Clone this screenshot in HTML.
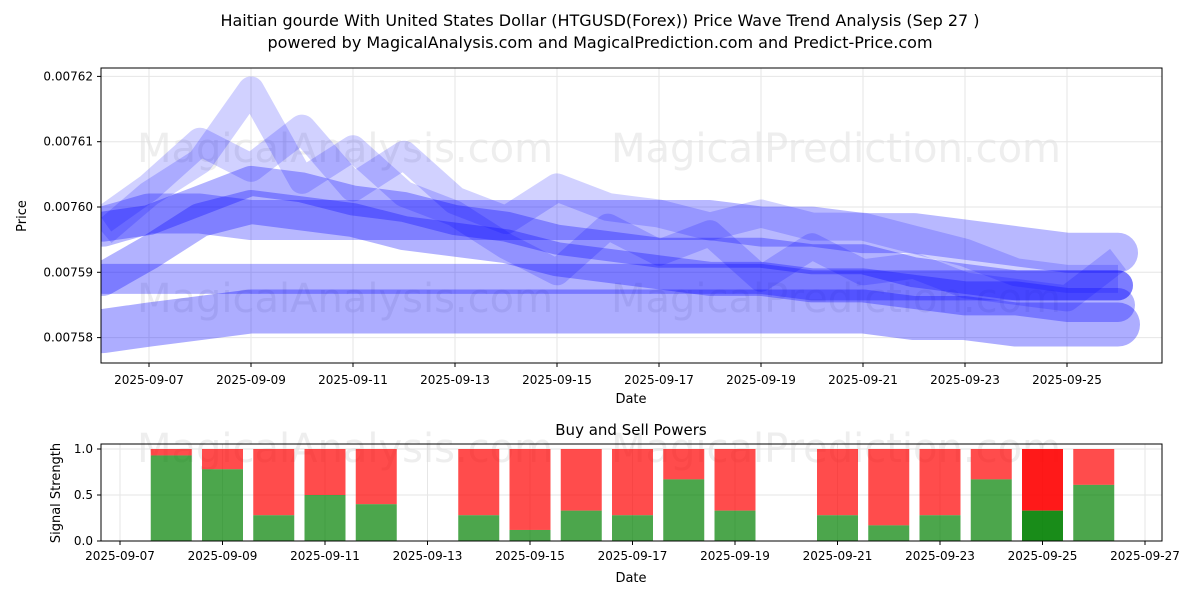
<!DOCTYPE html>
<html><head><meta charset="utf-8"><style>
body{margin:0;background:#fff;font-family:"Liberation Sans","DejaVu Sans",sans-serif}
</style></head><body>
<svg id="c" width="1200" height="600" xmlns="http://www.w3.org/2000/svg" font-family="DejaVu Sans, Liberation Sans, sans-serif">
<text x="600" y="26" text-anchor="middle" font-size="16">Haitian gourde With United States Dollar (HTGUSD(Forex)) Price Wave Trend Analysis (Sep 27 )</text>
<text x="600" y="48" text-anchor="middle" font-size="16">powered by MagicalAnalysis.com and MagicalPrediction.com and Predict-Price.com</text>
<g id="topg"></g><g id="botg"></g>
</svg>
<script>
const priceDays=[6.1,7,8,9,10,11,12,13,14,15,16,17,18,19,20,21,22,23,24,25,26];
const seriesA=[0.007597,0.007598,0.007601,0.007604,0.007603,0.007601,0.0076,0.007598,0.007597,0.007595,0.007594,0.007593,0.007593,0.007593,0.007592,0.007592,0.00759,0.007589,0.007588,0.007588,0.007588];
const seriesB=[0.007589,0.007593,0.007598,0.0076,0.007599,0.007598,0.007596,0.007595,0.007594,0.007592,0.007591,0.00759,0.007589,0.007589,0.007588,0.007588,0.007587,0.007586,0.007586,0.007585,0.007585];
const seriesC=[0.007581,0.007582,0.007583,0.007584,0.007584,0.007584,0.007584,0.007584,0.007584,0.007584,0.007584,0.007584,0.007584,0.007584,0.007584,0.007584,0.007583,0.007583,0.007582,0.007582,0.007582];
const seriesD=[0.007589,0.007589,0.007589,0.007589,0.007589,0.007589,0.007589,0.007589,0.007589,0.007589,0.007589,0.007589,0.007589,0.007589,0.007588,0.007588,0.007588,0.007588,0.007588,0.007588,0.007588];
const seriesE=[0.007598,0.007603,0.00761,0.007606,0.007612,0.007603,0.007608,0.007601,0.007598,0.007603,0.0076,0.007599,0.007597,0.007599,0.007597,0.007597,0.007595,0.007593,0.00759,0.007589,0.007589];
const seriesF=[0.007596,0.007602,0.007607,0.007618,0.007604,0.007609,0.007602,0.007599,0.007594,0.00759,0.007597,0.007593,0.007596,0.007589,0.007594,0.00759,0.007591,0.007588,0.007587,0.007586,0.007592];
const seriesG=[0.007597,0.007599,0.007599,0.007598,0.007598,0.007598,0.007598,0.007598,0.007598,0.007598,0.007598,0.007598,0.007598,0.007597,0.007597,0.007596,0.007596,0.007595,0.007594,0.007593,0.007593];
const priceSeries=[seriesA,seriesB,seriesC,seriesD,seriesE,seriesF,seriesG];
const yTicks=[0.00758,0.00759,0.0076,0.00761,0.00762];
const xTickDays=[7,9,11,13,15,17,19,21,23,25];
const barDays=[8,9,10,11,12,14,15,16,17,18,19,21,22,23,24,25,26];
const buyVals=[0.93,0.78,0.28,0.5,0.4,0.28,0.12,0.33,0.28,0.67,0.33,0.28,0.17,0.28,0.67,0.33,0.61];
const bTickDays=[7,9,11,13,15,17,19,21,23,25,27];
const bYTicks=[0,0.5,1];
const NS="http://www.w3.org/2000/svg";
function mk(p,t,a,txt){const e=document.createElementNS(NS,t);for(const k in a)e.setAttribute(k,a[k]);if(txt!=null)e.textContent=txt;p.appendChild(e);return e;}
const pad=d=>'2025-09-'+String(d).padStart(2,'0');
const gTop=document.getElementById('topg');
const L=101,R=1162,T=68,B=363;
const xs=d=>149+(d-7)*51;
const ys=v=>207-(v-0.0076)*6530000;
mk(gTop,'rect',{x:L,y:T,width:R-L,height:B-T,fill:'#fff'});
yTicks.forEach(v=>{const g=mk(gTop,'line',{x1:L,x2:R,y1:ys(v),y2:ys(v),stroke:'#e6e6e6'});
const t=mk(gTop,'text',{x:L-8,y:ys(v)+4,'text-anchor':'end','font-size':12},v.toFixed(5));mk(gTop,'line',{x1:L-4,x2:L,y1:ys(v),y2:ys(v),stroke:'#000'});});
xTickDays.forEach(d=>{mk(gTop,'line',{x1:xs(d),x2:xs(d),y1:T,y2:B,stroke:'#e6e6e6'});mk(gTop,'line',{x1:xs(d),x2:xs(d),y1:B,y2:B+4,stroke:'#000'});
const t=mk(gTop,'text',{x:xs(d),y:B+21,'text-anchor':'middle','font-size':12},pad(d));});
[[345,162],[836,162],[345,312],[836,312]].forEach((p,i)=>{const w=mk(gTop,'text',{x:p[0],y:p[1],'text-anchor':'middle','font-size':40,fill:'#ddd','fill-opacity':0.5},i%2?'MagicalPrediction.com':'MagicalAnalysis.com');

});
const cp=mk(gTop,'clipPath',{id:'cp'});
mk(cp,'rect',{x:L,y:T,width:R-L,height:B-T});
const widths=[30,34,44,30,28,26,40];
const ops=[0.3,0.3,0.32,0.3,0.18,0.18,0.28];
const gl=mk(gTop,'g',{'clip-path':'url(#cp)'});
priceSeries.forEach((s,i)=>{const p=mk(gl,'polyline',{points:s.map((v,j)=>xs(priceDays[j])+','+ys(v)).join(' '),fill:'none',stroke:'#0000ff','stroke-opacity':ops[i],'stroke-width':widths[i],'stroke-linecap':(i<4||i==6)?'round':'butt','stroke-linejoin':'round'});

});
mk(gTop,'rect',{x:L,y:T,width:R-L,height:B-T,fill:'none',stroke:'#000'});
const yl=mk(gTop,'text',{x:26,y:216,'text-anchor':'middle','font-size':13,transform:'rotate(-90 26 216)'},'Price');
const xl=mk(gTop,'text',{x:631,y:403,'text-anchor':'middle','font-size':13},'Date');
const gBot=document.getElementById('botg');
const bL=101,bR=1162,bT=444,bB=541;
const bx=d=>120+(d-7)*51.25;
const by=v=>541-v*92;
bYTicks.forEach(v=>{mk(gBot,'line',{x1:bL,x2:bR,y1:by(v),y2:by(v),stroke:'#e6e6e6'});mk(gBot,'line',{x1:bL-4,x2:bL,y1:by(v),y2:by(v),stroke:'#000'});
const t=mk(gBot,'text',{x:bL-8,y:by(v)+4,'text-anchor':'end','font-size':12},v.toFixed(1));});
bTickDays.forEach(d=>{mk(gBot,'line',{x1:bx(d),x2:bx(d),y1:bT,y2:bB,stroke:'#e6e6e6'});mk(gBot,'line',{x1:bx(d),x2:bx(d),y1:bB,y2:bB+4,stroke:'#000'});
const t=mk(gBot,'text',{x:bx(d),y:bB+19,'text-anchor':'middle','font-size':12},pad(d));});
[[345,462],[836,462]].forEach((p,i)=>{const w=mk(gBot,'text',{x:p[0],y:p[1],'text-anchor':'middle','font-size':40,fill:'#ddd','fill-opacity':0.5},i?'MagicalPrediction.com':'MagicalAnalysis.com');

});
barDays.forEach((d,i)=>{const last=d===25;const w=41,x=bx(d)-w/2;
const r=mk(gBot,'rect',{x:x,y:by(1),width:w,height:by(buyVals[i])-by(1),fill:'#ff0000','fill-opacity':last?0.9:0.7});


const g=mk(gBot,'rect',{x:x,y:by(buyVals[i]),width:w,height:by(0)-by(buyVals[i]),fill:'#008000','fill-opacity':last?0.9:0.7});

});
mk(gBot,'rect',{x:bL,y:bT,width:bR-bL,height:bB-bT,fill:'none',stroke:'#000'});
const bt=mk(gBot,'text',{x:631,y:435,'text-anchor':'middle','font-size':15},'Buy and Sell Powers');
const byl=mk(gBot,'text',{x:60,y:493,'text-anchor':'middle','font-size':13,transform:'rotate(-90 60 493)'},'Signal Strength');
const bxl=mk(gBot,'text',{x:631,y:582,'text-anchor':'middle','font-size':13},'Date');
</script>
</body></html>
